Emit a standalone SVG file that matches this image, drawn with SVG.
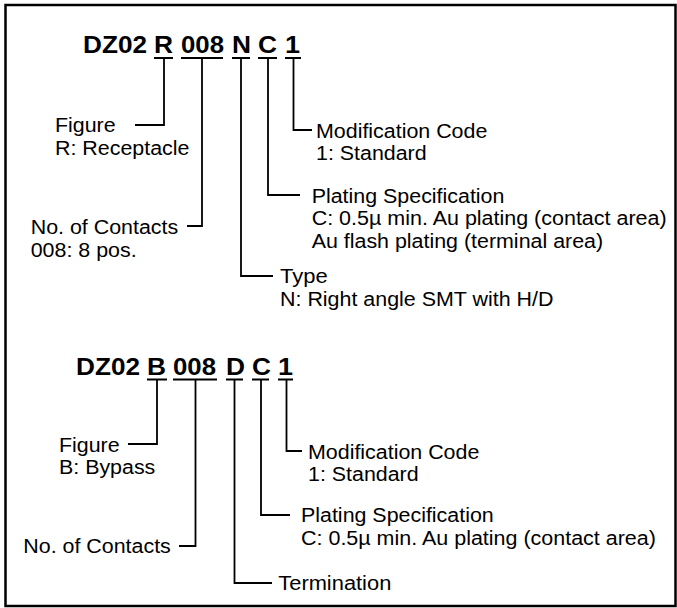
<svg xmlns="http://www.w3.org/2000/svg" width="677" height="608" viewBox="0 0 677 608">
<style>
.t{font-family:"Liberation Sans",Arial,sans-serif;font-size:19.5px;fill:#000}
.h{font-family:"Liberation Sans",Arial,sans-serif;font-size:23.5px;font-weight:bold;fill:#000}
.c{fill:none;stroke:#000;stroke-width:1.8}
.u{fill:none;stroke:#000;stroke-width:2}
</style>
<rect x="5.5" y="5" width="670" height="601" fill="#fff" stroke="#000" stroke-width="2.5"/>
<g id="code1">
<text class="h" x="83" y="53" textLength="64" lengthAdjust="spacingAndGlyphs">DZ02</text>
<text class="h" x="154" y="53" textLength="19" lengthAdjust="spacingAndGlyphs">R</text>
<text class="h" x="181" y="53" textLength="43" lengthAdjust="spacingAndGlyphs">008</text>
<text class="h" x="232" y="53" textLength="19" lengthAdjust="spacingAndGlyphs">N</text>
<text class="h" x="258" y="53" textLength="19" lengthAdjust="spacingAndGlyphs">C</text>
<text class="h" x="285" y="53" textLength="15" lengthAdjust="spacingAndGlyphs">1</text>
<path class="u" d="M154,58H173M181,58H223M232,58H250M258,58H277M285,58H301"/>
</g>
<g id="figure1">
<text class="t" x="55" y="132" textLength="60.6" lengthAdjust="spacingAndGlyphs">Figure</text>
<text class="t" x="55" y="155" textLength="134.4" lengthAdjust="spacingAndGlyphs">R: Receptacle</text>
</g>
<g id="contacts1">
<text class="t" x="30.7" y="234" textLength="147.5" lengthAdjust="spacingAndGlyphs">No. of Contacts</text>
<text class="t" x="30.7" y="257" textLength="105.9" lengthAdjust="spacingAndGlyphs">008: 8 pos.</text>
</g>
<g id="type1">
<text class="t" x="280" y="283" textLength="47.6" lengthAdjust="spacingAndGlyphs">Type</text>
<text class="t" x="280" y="306" textLength="273.5" lengthAdjust="spacingAndGlyphs">N: Right angle SMT with H/D</text>
</g>
<g id="plating1">
<text class="t" x="311.7" y="202.5" textLength="192.7" lengthAdjust="spacingAndGlyphs">Plating Specification</text>
<text class="t" x="311.7" y="225" textLength="354.9" lengthAdjust="spacingAndGlyphs">C: 0.5µ min. Au plating (contact area)</text>
<text class="t" x="311.7" y="247.5" textLength="291.4" lengthAdjust="spacingAndGlyphs">Au flash plating (terminal area)</text>
</g>
<g id="mod1">
<text class="t" x="316" y="137.5" textLength="171.3" lengthAdjust="spacingAndGlyphs">Modification Code</text>
<text class="t" x="316" y="160" textLength="110.6" lengthAdjust="spacingAndGlyphs">1: Standard</text>
</g>
<g id="code2">
<text class="h" x="76" y="374.5" textLength="64" lengthAdjust="spacingAndGlyphs">DZ02</text>
<text class="h" x="147" y="374.5" textLength="19" lengthAdjust="spacingAndGlyphs">B</text>
<text class="h" x="173" y="374.5" textLength="43" lengthAdjust="spacingAndGlyphs">008</text>
<text class="h" x="226" y="374.5" textLength="19" lengthAdjust="spacingAndGlyphs">D</text>
<text class="h" x="252" y="374.5" textLength="19" lengthAdjust="spacingAndGlyphs">C</text>
<text class="h" x="278" y="374.5" textLength="15" lengthAdjust="spacingAndGlyphs">1</text>
<path class="u" d="M147,379.5H167M173,379.5H217M226,379.5H243M252,379.5H269M278,379.5H293"/>
</g>
<g id="figure2">
<text class="t" x="59" y="451.5" textLength="60.6" lengthAdjust="spacingAndGlyphs">Figure</text>
<text class="t" x="59" y="474" textLength="96.3" lengthAdjust="spacingAndGlyphs">B: Bypass</text>
</g>
<g id="mod2">
<text class="t" x="308" y="458.5" textLength="171.3" lengthAdjust="spacingAndGlyphs">Modification Code</text>
<text class="t" x="308" y="481" textLength="110.6" lengthAdjust="spacingAndGlyphs">1: Standard</text>
</g>
<g id="plating2">
<text class="t" x="301" y="522" textLength="192.7" lengthAdjust="spacingAndGlyphs">Plating Specification</text>
<text class="t" x="301" y="545" textLength="354.9" lengthAdjust="spacingAndGlyphs">C: 0.5µ min. Au plating (contact area)</text>
</g>
<g id="contacts2">
<text class="t" x="23.3" y="553" textLength="147.5" lengthAdjust="spacingAndGlyphs">No. of Contacts</text>
</g>
<g id="termination2">
<text class="t" x="278.3" y="590" textLength="113" lengthAdjust="spacingAndGlyphs">Termination</text>
</g>
<g id="connectors">
<path class="c" d="M164,58V125H135"/>
<path class="c" d="M202,58V226H187"/>
<path class="c" d="M241,58V276H273"/>
<path class="c" d="M268,58V195H300"/>
<path class="c" d="M293.5,58V130H312"/>
<path class="c" d="M157,379.5V444H128"/>
<path class="c" d="M195.5,379.5V546H179"/>
<path class="c" d="M234.5,379.5V583H272"/>
<path class="c" d="M261,379.5V515H290"/>
<path class="c" d="M286.5,379.5V451H302"/>
</g>
</svg>
